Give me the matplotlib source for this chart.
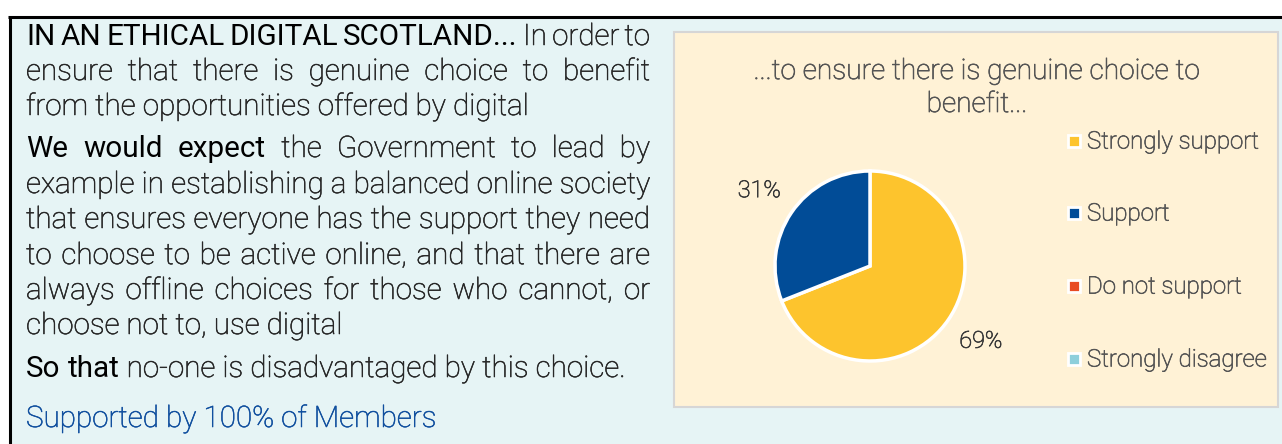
import matplotlib
matplotlib.use("Agg")
import matplotlib.pyplot as plt
import matplotlib.patheffects as pe
from matplotlib import font_manager
from matplotlib.patches import Rectangle

# Survey result for the statement
categories = ["Strongly support", "Support", "Do not support", "Strongly disagree"]
shares = [69, 31, 0, 0]
slice_colors = ["#FDC42D", "#014C97", "#E84B24", "#8ECFDB"]
chart_title = "...to ensure there is genuine choice to\nbenefit..."

# Statement text, one entry per printed line: (segments, justified)
statement = [
    ([("IN AN ETHICAL DIGITAL SCOTLAND...", "em"), (" In order to", "body")], True),
    ([("ensure that there is genuine choice to benefit", "body")], True),
    ([("from the opportunities offered by digital", "body")], False),
    ([("We would expect", "em"), (" the Government to lead by", "body")], True),
    ([("example in establishing a balanced online society", "body")], True),
    ([("that ensures everyone has the support they need", "body")], True),
    ([("to choose to be active online, and that there are", "body")], True),
    ([("always offline choices for those who cannot, or", "body")], True),
    ([("choose not to, use digital", "body")], False),
    ([("So that", "em"), (" no-one is disadvantaged by this choice.", "body")], False),
    ([("Supported by 100% of Members", "link")], False),
]
baselines = [45, 80, 115, 157, 193, 228, 264, 299, 334, 377, 427]

available = {f.name for f in font_manager.fontManager.ttflist}
family = next((f for f in ["Roboto", "Open Sans", "Lato"] if f in available), "DejaVu Sans")


def thicken(color, lw=0.5):
    # light weight renders a touch thin, so stroke the glyph outline slightly
    return [pe.withStroke(linewidth=lw, foreground=color)]


styles = {
    "em": dict(fontweight="normal", color="black"),
    "body": dict(fontweight="light", color="#262626", path_effects=thicken("#262626", 0.4)),
    "link": dict(fontweight="light", color="#0F4E9E", path_effects=thicken("#0F4E9E", 0.4)),
}

W, H = 1282, 444
fig = plt.figure(figsize=(W / 100, H / 100), dpi=100)
fig.patch.set_facecolor("white")
bg = fig.add_axes([0, 0, 1, 1])
bg.set_xlim(0, W)
bg.set_ylim(H, 0)
bg.axis("off")
renderer = fig.canvas.get_renderer()


def text_width(s, size, weight):
    t = bg.text(0, 0, s, fontsize=size, fontfamily=family, fontweight=weight)
    w = t.get_window_extent(renderer).width
    t.remove()
    return w


def fit_size(s, target, weight, start=20.0):
    return start * target / text_width(s, start, weight)


# page background and rules
bg.add_patch(Rectangle((9, 17), W - 9, H - 17, facecolor="#E6F4F5", edgecolor="none"))
bg.plot([8, W], [17, 17], color="black", lw=2.2, solid_capstyle="butt")
bg.plot([9.5, 9.5], [17, H], color="black", lw=2.2, solid_capstyle="butt")

# statement text, justified word by word
body_size = fit_size("choose not to, use digital", 317, "light")
x0, x1 = 26, 650
for (segments, justify), yb in zip(statement, baselines):
    words = []
    for seg, st in segments:
        for w in seg.split():
            words.append((w, st))
    widths = [text_width(w, body_size, styles[st]["fontweight"]) for w, st in words]
    if justify and len(words) > 1:
        gap = (x1 - x0 - sum(widths)) / (len(words) - 1)
    else:
        gap = text_width("a a", body_size, "light") - text_width("aa", body_size, "light")
    x = x0
    for (w, st), wd in zip(words, widths):
        bg.text(x, yb, w, fontsize=body_size, fontfamily=family, va="baseline", ha="left",
                **styles[st])
        x += wd + gap

# chart panel
bg.add_patch(Rectangle((674, 32), 604, 375, facecolor="#FFF2D6", edgecolor="#D6D6D6", lw=1.5))
grey = "#555555"
title_size = fit_size("...to ensure there is genuine choice to", 447, "light")
for line, yb in zip(chart_title.split("\n"), [79, 112]):
    bg.text(977, yb, line, fontsize=title_size, fontfamily=family, fontweight="light",
            color=grey, ha="center", va="baseline", path_effects=thicken(grey))

# legend
leg_size = fit_size("Strongly support", 172, "light")
leg_y = [141, 213, 286, 359]
for name, col, yc in zip(categories, slice_colors, leg_y):
    bg.add_patch(Rectangle((1068, yc - 6), 12, 12, facecolor=col, edgecolor="white", lw=2))
    bg.text(1087, yc + 1, name, fontsize=leg_size, fontfamily=family, fontweight="light",
            color=grey, ha="left", va="center", path_effects=thicken(grey))

# pie
cx, cy, r = 870, 266, 95
pax = fig.add_axes([(cx - r) / W, (H - cy - r) / H, 2 * r / W, 2 * r / H])
vals = [v for v in shares if v > 0]
cols = [c for v, c in zip(shares, slice_colors) if v > 0]
pct_size = fit_size("69%", 43, "light")
wedges, texts, autotexts = pax.pie(
    vals, colors=cols, startangle=90, counterclock=False,
    autopct=lambda p: f"{p:.0f}%", pctdistance=1.41,
    wedgeprops=dict(edgecolor="white", linewidth=2.5),
    textprops=dict(fontsize=pct_size, fontfamily=family, fontweight="light", color="#3A3A3A",
                   path_effects=thicken("#3A3A3A")),
)
pax.set_xlim(-1, 1)
pax.set_ylim(-1, 1)
pax.set_aspect("auto")

fig.savefig("out.png", dpi=100, facecolor=fig.get_facecolor())
